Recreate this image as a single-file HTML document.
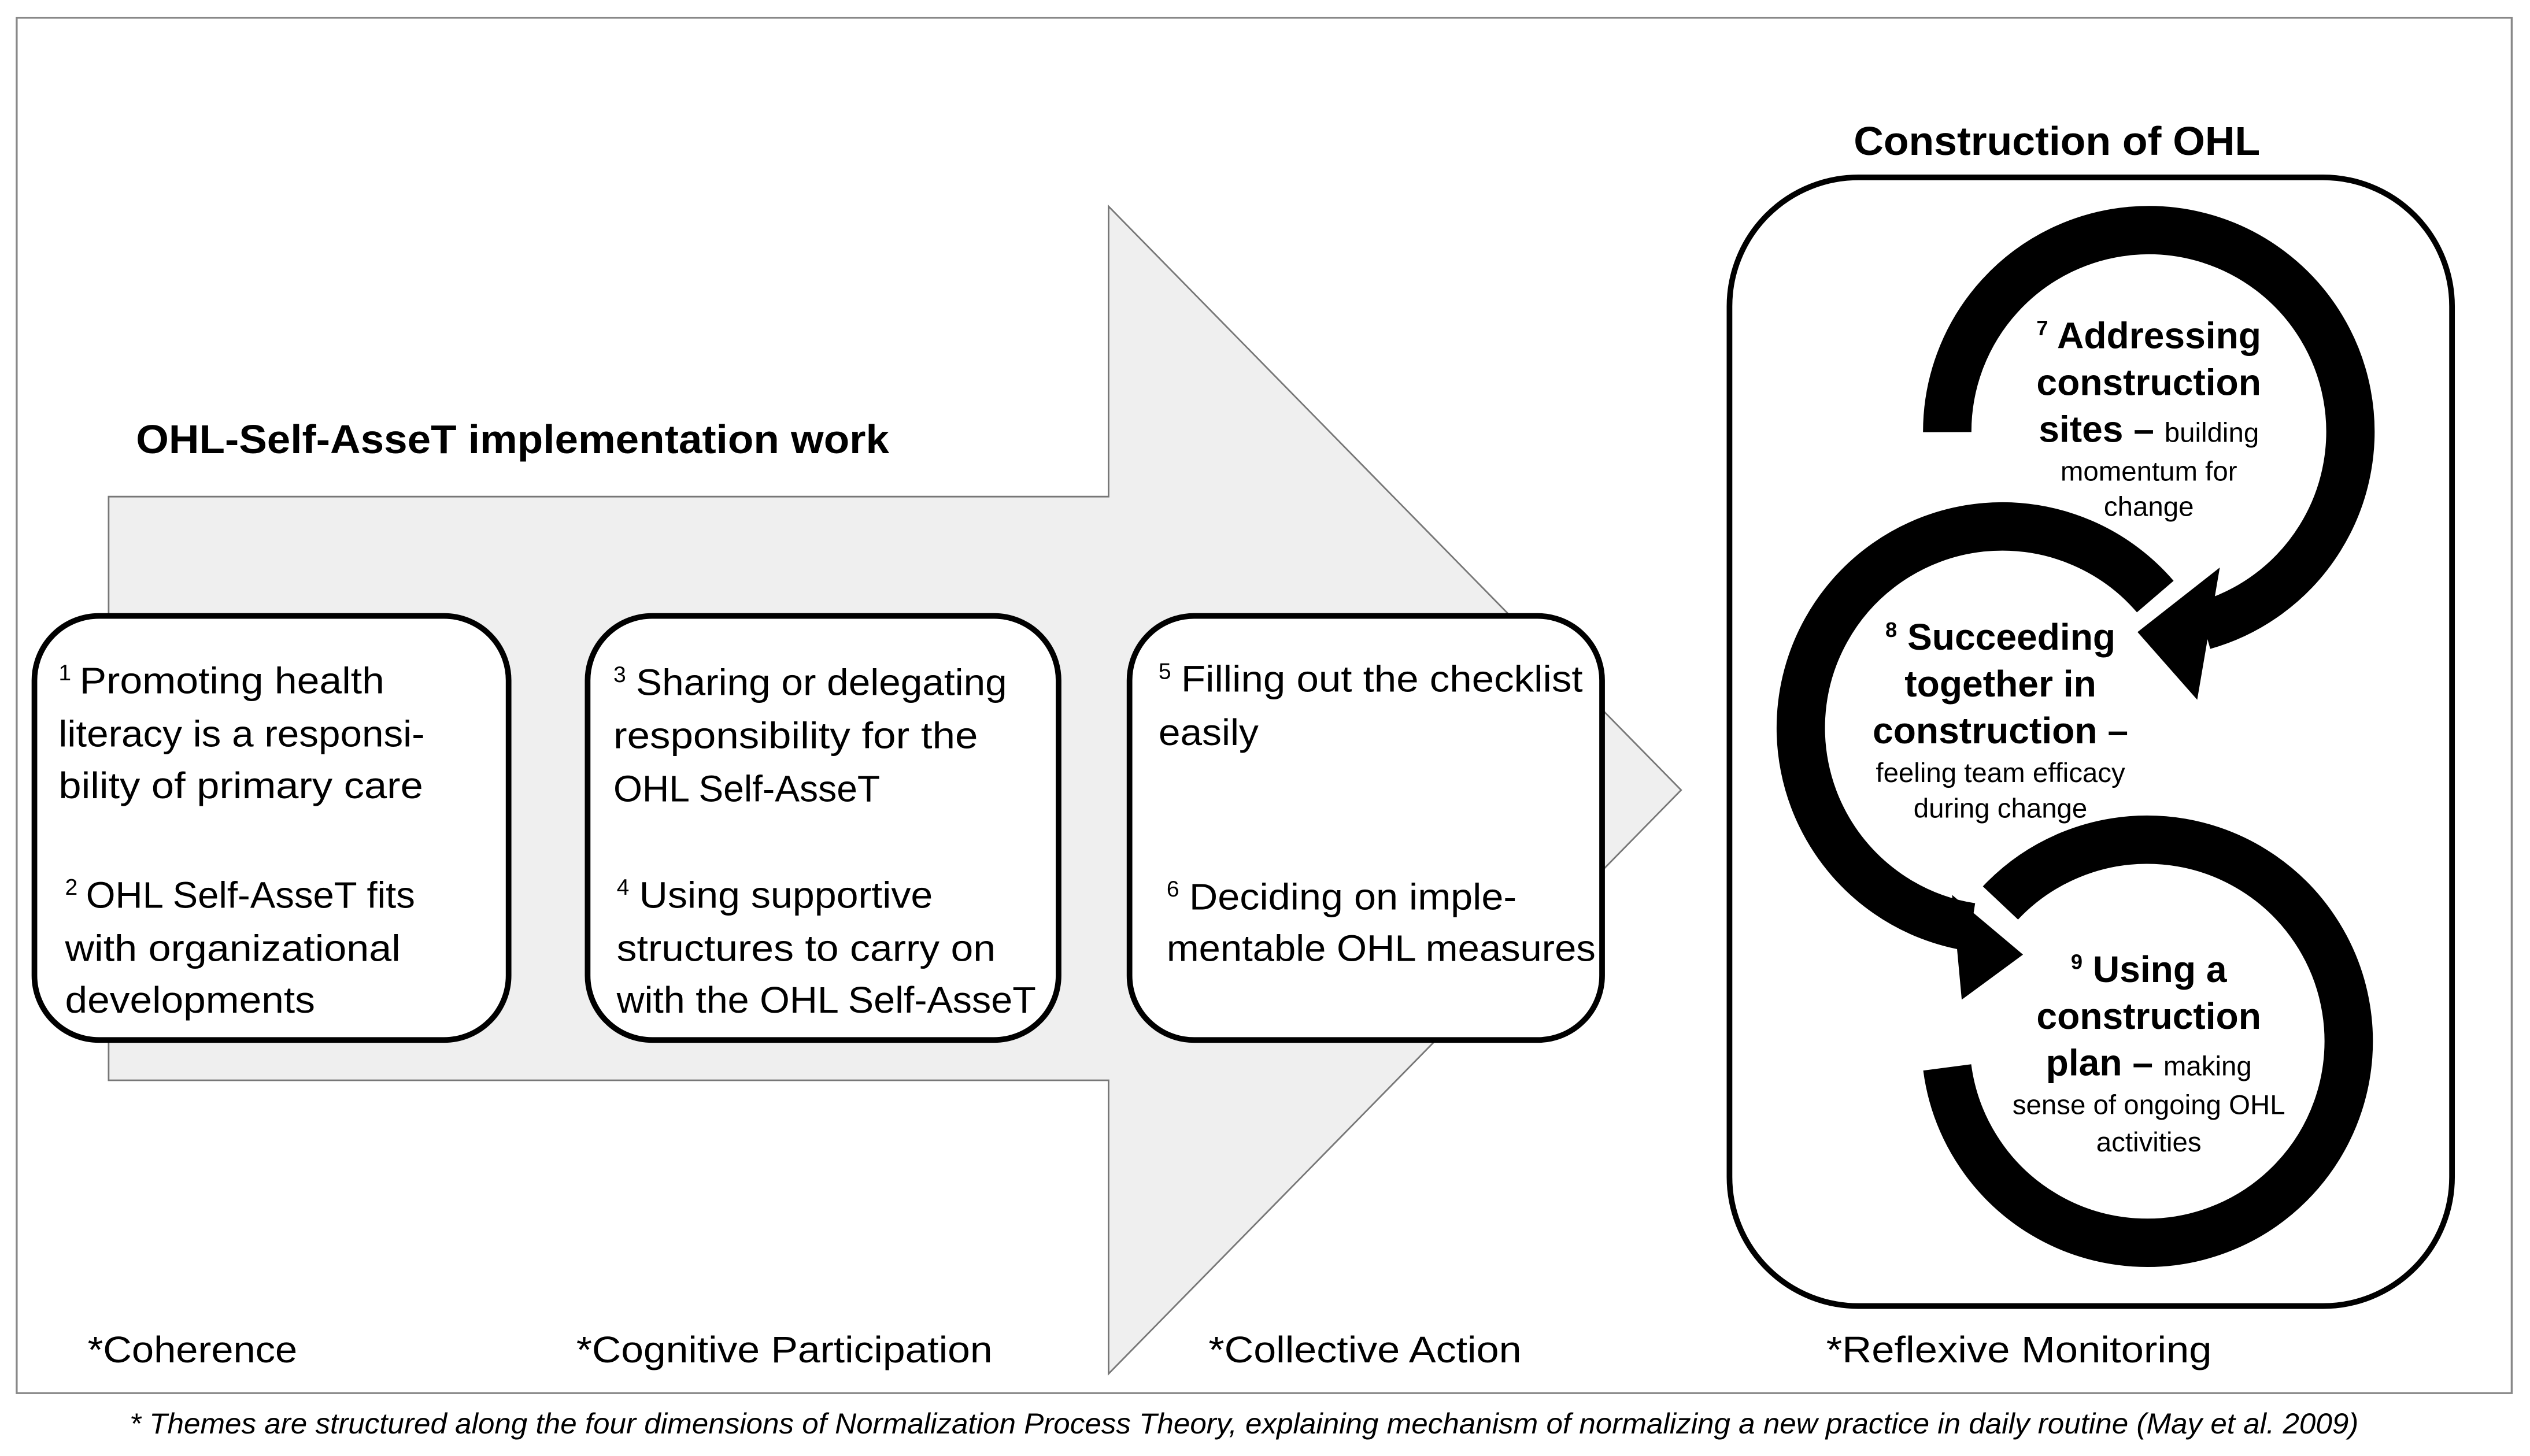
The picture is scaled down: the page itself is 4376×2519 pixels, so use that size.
<!DOCTYPE html>
<html><head><meta charset="utf-8"><style>
html,body{margin:0;padding:0;background:#fff;}
svg{display:block;}
text{font-family:"Liberation Sans",sans-serif;fill:#000;}
</style></head><body>
<svg width="4376" height="2519" viewBox="0 0 1568 903" xmlns="http://www.w3.org/2000/svg">
<rect x="0" y="0" width="1568" height="903" fill="#fff"/>
<rect x="10" y="11" width="1547" height="853" fill="#fff" stroke="#888" stroke-width="1.2"/>
<polygon points="67,308 687,308 687,128 1042,490 687,852 687,670 67,670" fill="#efefef" stroke="#777" stroke-width="1"/>
<text x="84" y="281" font-size="25" font-weight="bold" textLength="467" lengthAdjust="spacingAndGlyphs">OHL-Self-AsseT implementation work</text>

<rect x="21" y="382" width="294" height="263" rx="40" fill="#fff" stroke="#000" stroke-width="3.5"/>
<rect x="364" y="382" width="292" height="263" rx="40" fill="#fff" stroke="#000" stroke-width="3.5"/>
<rect x="700" y="382" width="293" height="263" rx="40" fill="#fff" stroke="#000" stroke-width="3.5"/>

<g font-size="23">
<text x="36" y="422" font-size="14">1</text>
<text x="49" y="430" textLength="189" lengthAdjust="spacingAndGlyphs">Promoting health</text>
<text x="36" y="463" textLength="227" lengthAdjust="spacingAndGlyphs">literacy is a responsi-</text>
<text x="36" y="495" textLength="226" lengthAdjust="spacingAndGlyphs">bility of primary care</text>
<text x="40" y="555" font-size="14">2</text>
<text x="53" y="563" textLength="204" lengthAdjust="spacingAndGlyphs">OHL Self-AsseT fits</text>
<text x="40" y="596" textLength="208" lengthAdjust="spacingAndGlyphs">with organizational</text>
<text x="40" y="628" textLength="155" lengthAdjust="spacingAndGlyphs">developments</text>

<text x="380" y="423" font-size="14">3</text>
<text x="394" y="431" textLength="230" lengthAdjust="spacingAndGlyphs">Sharing or delegating</text>
<text x="380" y="464" textLength="226" lengthAdjust="spacingAndGlyphs">responsibility for the</text>
<text x="380" y="497">OHL Self-AsseT</text>
<text x="382" y="555" font-size="14">4</text>
<text x="396" y="563" textLength="182" lengthAdjust="spacingAndGlyphs">Using supportive</text>
<text x="382" y="596" textLength="235" lengthAdjust="spacingAndGlyphs">structures to carry on</text>
<text x="382" y="628" textLength="260" lengthAdjust="spacingAndGlyphs">with the OHL Self-AsseT</text>

<text x="718" y="421" font-size="14">5</text>
<text x="732" y="429" textLength="249" lengthAdjust="spacingAndGlyphs">Filling out the checklist</text>
<text x="718" y="462" textLength="62" lengthAdjust="spacingAndGlyphs">easily</text>
<text x="723" y="556" font-size="14">6</text>
<text x="737" y="564" textLength="203" lengthAdjust="spacingAndGlyphs">Deciding on imple-</text>
<text x="723" y="596" textLength="266" lengthAdjust="spacingAndGlyphs">mentable OHL measures</text>

<text x="54" y="845" textLength="130" lengthAdjust="spacingAndGlyphs">*Coherence</text>
<text x="357" y="845" textLength="258" lengthAdjust="spacingAndGlyphs">*Cognitive Participation</text>
<text x="749" y="845" textLength="194" lengthAdjust="spacingAndGlyphs">*Collective Action</text>
<text x="1132" y="845" textLength="239" lengthAdjust="spacingAndGlyphs">*Reflexive Monitoring</text>
</g>

<text x="1149" y="96" font-size="25" font-weight="bold" textLength="252" lengthAdjust="spacingAndGlyphs">Construction of OHL</text>
<rect x="1072" y="110" width="448" height="700" rx="80" fill="#fff" stroke="#000" stroke-width="3.5"/>

<g fill="none" stroke="#000" stroke-width="30">
<path d="M1207,268 A125,125 0 1 1 1366,388"/>
<path d="M1336,370 A125,125 0 1 0 1222,575"/>
<path d="M1240,560 A125,125 0 1 1 1207,662"/>
</g>
<polygon points="1376,352 1325,392 1362,434" fill="#000"/>
<polygon points="1210,555 1254,592 1216,620" fill="#000"/>

<g text-anchor="middle">
<text x="1332" y="216" font-size="23" font-weight="bold"><tspan font-size="13" dy="-8">7</tspan><tspan dy="8"> Addressing</tspan></text>
<text x="1332" y="245" font-size="23" font-weight="bold">construction</text>
<text x="1332" y="274"><tspan font-size="23" font-weight="bold">sites – </tspan><tspan font-size="17">building</tspan></text>
<text x="1332" y="298" font-size="17">momentum for</text>
<text x="1332" y="320" font-size="17">change</text>

<text x="1240" y="403" font-size="23" font-weight="bold"><tspan font-size="13" dy="-8">8</tspan><tspan dy="8"> Succeeding</tspan></text>
<text x="1240" y="432" font-size="23" font-weight="bold">together in</text>
<text x="1240" y="461" font-size="23" font-weight="bold">construction –</text>
<text x="1240" y="485" font-size="17">feeling team efficacy</text>
<text x="1240" y="507" font-size="17">during change</text>

<text x="1332" y="609" font-size="23" font-weight="bold"><tspan font-size="13" dy="-8">9</tspan><tspan dy="8"> Using a</tspan></text>
<text x="1332" y="638" font-size="23" font-weight="bold">construction</text>
<text x="1332" y="667"><tspan font-size="23" font-weight="bold">plan – </tspan><tspan font-size="17">making</tspan></text>
<text x="1332" y="691" font-size="17">sense of ongoing OHL</text>
<text x="1332" y="714" font-size="17">activities</text>
</g>

<text x="80" y="889" font-size="18" font-style="italic" textLength="1382" lengthAdjust="spacingAndGlyphs">* Themes are structured along the four dimensions of Normalization Process Theory, explaining mechanism of normalizing a new practice in daily routine (May et al. 2009)</text>
</svg>
</body></html>
